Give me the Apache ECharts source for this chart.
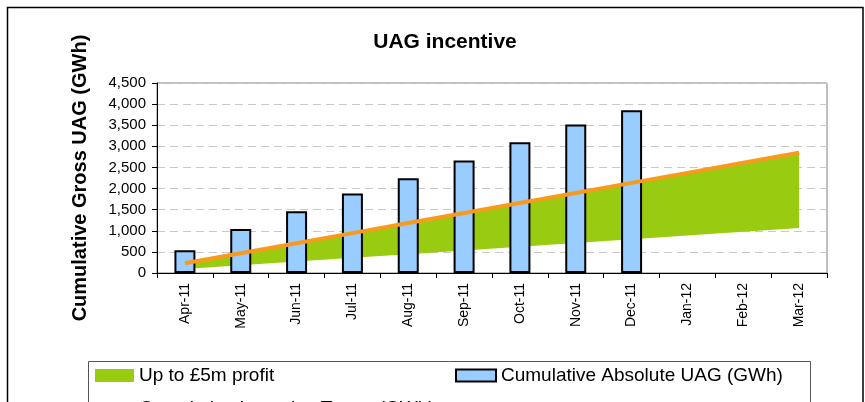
<!DOCTYPE html>
<html>
<head>
<meta charset="utf-8">
<title>UAG incentive</title>
<script src="https://cdn.jsdelivr.net/npm/echarts@6/dist/echarts.min.js"></script>
<style>
  html, body { margin: 0; padding: 0; background: #fff; }
  #chart { width: 865px; height: 402px; }
</style>
</head>
<body>
<div id="chart"></div>
<script>
// categories
const months = ['Apr-11', 'May-11', 'Jun-11', 'Jul-11', 'Aug-11', 'Sep-11',
  'Oct-11', 'Nov-11', 'Dec-11', 'Jan-12', 'Feb-12', 'Mar-12']

// cumulative absolute UAG (GWh), bars
const uag = [540, 1040, 1460, 1880, 2245, 2665, 3095, 3520, 3855, null, null, null]

// cumulative incentive target (GWh), orange line
const target = [230, 468, 706, 944, 1182, 1420, 1658, 1896, 2134, 2372, 2610, 2850]

// lower edge of the "up to £5m profit" band
const bandLow = [95, 183, 271, 359, 447, 535, 623, 711, 799, 887, 975, 1065]

// band thickness for stacking
const bandSpan = target.map((v, i) => v - bandLow[i])

const chart = echarts.init(document.getElementById('chart'))

const font = 'Liberation Sans, Arial, sans-serif'

const legendText = { fontSize: 19, color: '#000', fontFamily: font }

const option = {
  animation: false,
  backgroundColor: '#fff',
  textStyle: { fontFamily: font },
  title: {
    text: 'UAG incentive',
    left: 440,
    textAlign: 'center',
    top: 27,
    textStyle: { fontSize: 21, fontWeight: 'bold', color: '#000', fontFamily: font }
  },
  grid: {
    left: 157,
    right: 38,
    top: 83,
    bottom: 129,
    show: true,
    borderColor: '#808080',
    borderWidth: 1,
    containLabel: false
  },
  legend: [
    {
      left: 95, top: 366, padding: 0,
      data: ['Up to £5m profit'],
      itemWidth: 39, itemHeight: 13, itemGap: 0,
      icon: 'rect',
      textStyle: legendText
    },
    {
      left: 455, top: 366, padding: 0,
      data: ['Cumulative Absolute UAG (GWh)'],
      itemWidth: 40, itemHeight: 12, itemGap: 0,
      icon: 'rect',
      textStyle: legendText
    },
    {
      left: 95, bottom: -16, padding: 0,
      data: ['Cumulative Incentive Target (GWh)'],
      itemWidth: 39, itemHeight: 4, itemGap: 0,
      icon: 'rect',
      textStyle: legendText
    }
  ],
  xAxis: {
    type: 'category',
    data: months,
    boundaryGap: true,
    axisLine: { lineStyle: { color: '#000', width: 1 } },
    axisTick: { show: true, interval: 0, length: 5, lineStyle: { color: '#000' } },
    axisLabel: {
      interval: 0,
      rotate: 90,
      margin: 10,
      fontSize: 14,
      color: '#000',
      fontFamily: font
    }
  },
  yAxis: {
    type: 'value',
    min: 0,
    max: 4500,
    interval: 500,
    name: 'Cumulative Gross UAG (GWh)',
    nameLocation: 'middle',
    nameGap: 67,
    nameTextStyle: { fontSize: 20, fontWeight: 'bold', color: '#000', fontFamily: font },
    axisLine: { show: true, lineStyle: { color: '#000', width: 1 } },
    axisTick: { show: true, length: 5, lineStyle: { color: '#000' } },
    axisLabel: {
      margin: 11,
      fontSize: 15,
      color: '#000',
      fontFamily: font,
      formatter: v => v.toLocaleString('en-US')
    },
    splitLine: { show: true, lineStyle: { color: '#c8c8c8', type: [8, 5], width: 1 } }
  },
  series: [
    {
      name: 'band base',
      type: 'line',
      stack: 'band',
      data: bandLow,
      symbol: 'none',
      lineStyle: { width: 0 },
      silent: true,
      z: 1
    },
    {
      name: 'Up to £5m profit',
      type: 'line',
      stack: 'band',
      data: bandSpan,
      symbol: 'none',
      lineStyle: { width: 0 },
      itemStyle: { color: '#99CC10' },
      areaStyle: { color: '#99CC10', opacity: 1 },
      z: 1
    },
    {
      name: 'Cumulative Absolute UAG (GWh)',
      type: 'bar',
      data: uag,
      barWidth: 21,
      itemStyle: { color: '#99CCFF', borderColor: '#000', borderWidth: 2 },
      z: 2
    },
    {
      name: 'Cumulative Incentive Target (GWh)',
      type: 'line',
      data: target,
      symbol: 'none',
      lineStyle: { color: '#F89A1C', width: 4 },
      itemStyle: { color: '#FAD9B0' },
      z: 3
    }
  ],
  graphic: [
    {
      type: 'rect',
      shape: { x: 7.5, y: 7.5, width: 855.5, height: 410 },
      style: { fill: 'none', stroke: '#000', lineWidth: 1.5 },
      silent: true,
      z: -1
    },
    {
      type: 'rect',
      shape: { x: 88.5, y: 361.5, width: 722, height: 60 },
      style: { fill: 'none', stroke: '#555', lineWidth: 1 },
      silent: true,
      z: -1
    }
  ]
}

chart.setOption(option)
</script>
</body>
</html>
